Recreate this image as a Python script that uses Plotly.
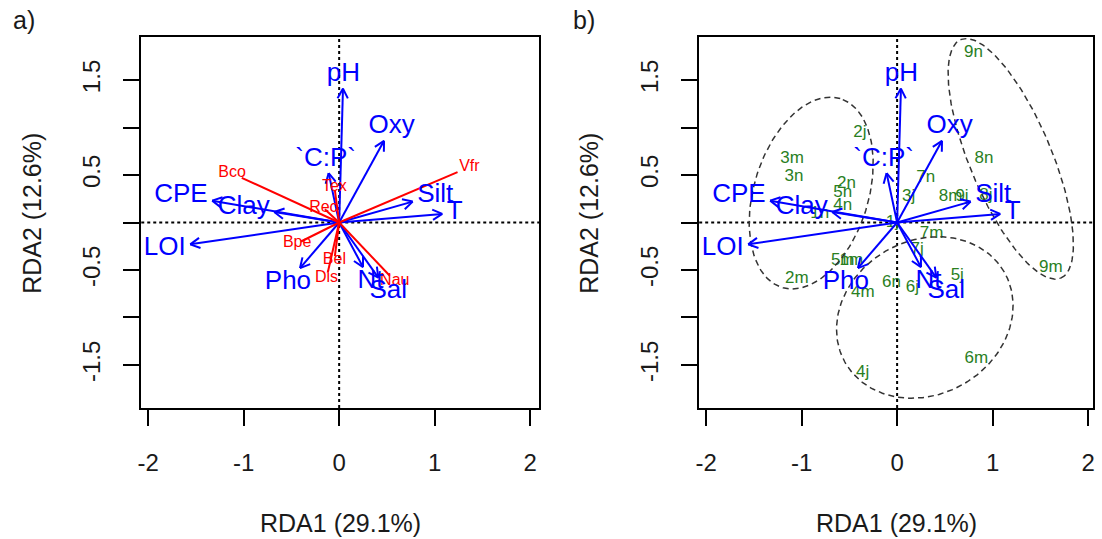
import numpy as np
import plotly.graph_objects as go

W, H = 1102, 539
FONT = "Liberation Sans, Arial, sans-serif"

# ---- data -------------------------------------------------------------
env_names = ["pH", "Oxy", "`C:P`", "Silt", "T", "Clay", "CPE", "LOI", "Pho", "Nt", "Sal"]
env_x = [0.04, 0.47, -0.11, 0.77, 1.08, -0.68, -1.33, -1.56, -0.41, 0.25, 0.41]
env_y = [1.41, 0.86, 0.52, 0.22, 0.09, 0.11, 0.23, -0.23, -0.48, -0.47, -0.58]

spp_names = ["Bco", "Vfr", "Tex", "Rec", "Bpe", "Bel", "Dis", "Nau"]
spp_x = [-1.02, 1.24, -0.045, -0.15, -0.40, -0.045, -0.12, 0.53]
spp_y = [0.47, 0.53, 0.34, 0.14, -0.20, -0.355, -0.53, -0.56]

site_names = ["1j", "1n", "4n", "5n", "2n", "3n", "3m", "2j", "3j", "7n",
              "8m", "9j", "8j", "8n", "9n", "7m", "7j", "5m", "1m", "4m",
              "2m", "6n", "6j", "5j", "9m", "6m", "4j"]
site_x = [-0.05, -0.81, -0.57, -0.57, -0.53, -1.08, -1.10, -0.39, 0.12, 0.30,
          0.56, 0.68, 0.93, 0.91, 0.80, 0.36, 0.21, -0.57, -0.48, -0.36,
          -1.05, -0.06, 0.16, 0.63, 1.61, 0.83, -0.36]
site_y = [0.00, 0.09, 0.18, 0.31, 0.41, 0.48, 0.67, 0.94, 0.27, 0.47,
          0.27, 0.27, 0.28, 0.67, 1.79, -0.12, -0.29, -0.40, -0.40, -0.74,
          -0.59, -0.63, -0.69, -0.56, -0.48, -1.43, -1.58]

ell_cx = [-0.90, 1.19, 0.29]
ell_cy = [0.31, 0.67, -1.00]
ell_a = [1.04, 1.36, 0.96]
ell_b = [0.60, 0.43, 0.81]
ell_angle = [73.0, -67.4, 30.0]

x_ticks = [-2, -1, 0, 1, 2]
x_ticktext = ["-2", "-1", "0", "1", "2"]
y_ticks = [-1.5, -1, -0.5, 0, 0.5, 1, 1.5]
y_ticktext = ["-1.5", "", "-0.5", "", "0.5", "", "1.5"]

x_title = "RDA1 (29.1%)"
y_title = "RDA2 (12.6%)"

# ---- layout geometry (pixels) ----------------------------------------
panels = [
    dict(left=138, right=538, xr=[-2.073, 2.094], tag="a)", tagx=20, ytitle_x=28, ax=""),
    dict(left=699, right=1095, xr=[-2.073, 2.052], tag="b)", tagx=583, ytitle_x=588, ax="2"),
]
TOP, BOT = 37, 408
YR = [-1.953, 1.953]

BLUE = "#0000FF"
RED = "#FF0000"
GREEN = "#2A7F1F"
LAB_FS = 26
SPP_FS = 16
SITE_FS = 17

# Arial advance widths (em) for label sizing
CW = {"p": .556, "H": .722, "O": .778, "x": .5, "y": .5, "`": .333, "C": .722, ":": .278,
      "P": .667, "S": .667, "i": .222, "l": .222, "t": .278, "T": .611, "a": .556,
      "E": .667, "L": .556, "I": .278, "h": .556, "o": .556, "N": .722}


def strw(s, fs):
    return sum(CW.get(c, .556) for c in s) * fs


fig = go.Figure()
shapes = []
annotations = []

for pi, p in enumerate(panels):
    xa = "x" + p["ax"]
    ya = "y" + p["ax"]
    sx = (p["right"] - p["left"]) / (p["xr"][1] - p["xr"][0])
    sy = (BOT - TOP) / (YR[1] - YR[0])

    # zero lines
    shapes.append(dict(type="line", xref=xa, yref=ya + " domain", x0=0, x1=0, y0=0, y1=1,
                       line=dict(color="black", width=2, dash="dot"), layer="below"))
    shapes.append(dict(type="line", xref=xa + " domain", yref=ya, x0=0, x1=1, y0=0, y1=0,
                       line=dict(color="black", width=2, dash="dot"), layer="below"))

    if pi == 1:
        # site labels
        fig.add_trace(go.Scatter(x=site_x, y=site_y, mode="text", text=site_names,
                                 textfont=dict(color=GREEN, size=SITE_FS, family=FONT),
                                 xaxis=xa, yaxis=ya, hoverinfo="skip"))
        # ellipses
        t = np.linspace(0, 2 * np.pi, 200)
        for cx, cy, a, b, ang in zip(ell_cx, ell_cy, ell_a, ell_b, ell_angle):
            th = np.deg2rad(ang)
            ex = cx + a * np.cos(t) * np.cos(th) - b * np.sin(t) * np.sin(th)
            ey = cy + a * np.cos(t) * np.sin(th) + b * np.sin(t) * np.cos(th)
            fig.add_trace(go.Scatter(x=ex, y=ey, mode="lines",
                                     line=dict(color="#333333", width=1.5, dash="6px,4px"),
                                     xaxis=xa, yaxis=ya, hoverinfo="skip"))

    # blue arrows with open heads
    axs, ays = [], []
    L, half = 11.0, np.deg2rad(28)
    for x, y in zip(env_x, env_y):
        axs += [0, x, None]
        ays += [0, y, None]
        dx, dy = x * sx, y * sy
        n = np.hypot(dx, dy)
        ux, uy = dx / n, dy / n
        for s in (1, -1):
            c, si = np.cos(s * half), np.sin(s * half)
            rx, ry = ux * c - uy * si, ux * si + uy * c
            axs += [x, x - L * rx / sx, None]
            ays += [y, y - L * ry / sy, None]
    fig.add_trace(go.Scatter(x=axs, y=ays, mode="lines", line=dict(color=BLUE, width=2),
                             xaxis=xa, yaxis=ya, hoverinfo="skip"))

    if pi == 0:
        # species segments + labels
        sxs, sys_ = [], []
        for x, y in zip(spp_x, spp_y):
            sxs += [0, x, None]
            sys_ += [0, y, None]
        fig.add_trace(go.Scatter(x=sxs, y=sys_, mode="lines", line=dict(color=RED, width=2),
                                 xaxis=xa, yaxis=ya, hoverinfo="skip"))
        fig.add_trace(go.Scatter(x=[1.1 * v for v in spp_x], y=[1.1 * v for v in spp_y],
                                 mode="text", text=spp_names,
                                 textfont=dict(color=RED, size=SPP_FS, family=FONT),
                                 xaxis=xa, yaxis=ya, hoverinfo="skip"))

    # blue labels, placed as vegan's ordiArrowTextXY
    lx, ly = [], []
    for name, x, y in zip(env_names, env_x, env_y):
        w = strw(name, LAB_FS)
        h = 0.72 * LAB_FS
        dx, dy = x * sx, y * sy
        ox = np.sign(dx) * (w / 2 + h / 4)
        oy = 0.75 * h * np.sign(dy)
        bslope = dy / dx if dx != 0 else np.inf
        move = oy / bslope if np.isfinite(bslope) and bslope != 0 else 0
        if abs(move) <= abs(ox):
            ox = move
        else:
            oy = bslope * ox
        lx.append(x + ox / sx)
        ly.append(y + oy / sy)
    fig.add_trace(go.Scatter(x=lx, y=ly, mode="text", text=env_names,
                             textfont=dict(color=BLUE, size=LAB_FS, family=FONT),
                             xaxis=xa, yaxis=ya, hoverinfo="skip"))

    axis_common = dict(showgrid=False, zeroline=False, showline=True, mirror=True,
                       linecolor="black", linewidth=1.5, ticks="outside", ticklen=16,
                       tickwidth=1.5, tickcolor="black",
                       tickfont=dict(size=24, family=FONT, color="#1a1a1a"))
    fig.update_layout(**{
        ("xaxis" + p["ax"]): dict(domain=[p["left"] / W, p["right"] / W], range=p["xr"],
                                  tickmode="array", tickvals=x_ticks, ticktext=x_ticktext,
                                  anchor=ya, ticklabelstandoff=16, **axis_common),
        ("yaxis" + p["ax"]): dict(domain=[1 - BOT / H, 1 - TOP / H], range=YR,
                                  tickmode="array", tickvals=y_ticks, ticktext=y_ticktext,
                                  tickangle=-90, anchor=xa, ticklabelstandoff=14,
                                  **axis_common),
    })

    cxp = (p["left"] + p["right"]) / 2
    annotations.append(dict(text=x_title, x=cxp / W, y=1 - 523 / H, xref="paper", yref="paper",
                            showarrow=False, font=dict(size=25, family=FONT, color="#1a1a1a"),
                            xanchor="center", yanchor="middle"))
    annotations.append(dict(text=y_title, x=p["ytitle_x"] / W, y=1 - 213 / H, xref="paper",
                            yref="paper", showarrow=False, textangle=-90,
                            font=dict(size=25, family=FONT, color="#1a1a1a"),
                            xanchor="center", yanchor="middle"))
    annotations.append(dict(text=p["tag"], x=p["tagx"] / W, y=1 - 20 / H, xref="paper",
                            yref="paper", showarrow=False,
                            font=dict(size=25, family=FONT, color="#1a1a1a"),
                            xanchor="center", yanchor="middle"))

fig.update_layout(width=W, height=H, margin=dict(l=0, r=0, t=0, b=0),
                  plot_bgcolor="white", paper_bgcolor="white", showlegend=False,
                  shapes=shapes, annotations=annotations)

fig.write_html("out.html")
